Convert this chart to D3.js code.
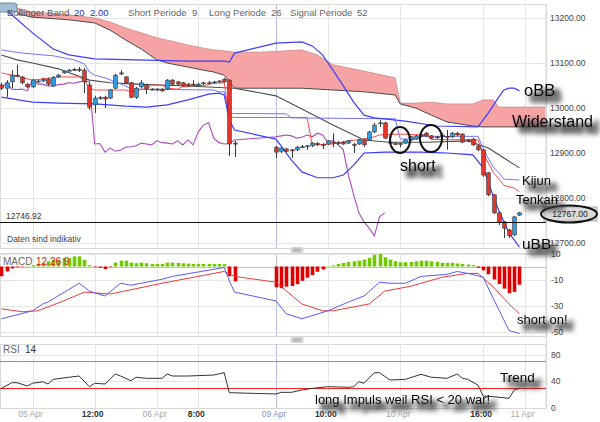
<!DOCTYPE html>
<html><head><meta charset="utf-8">
<script src="https://cdn.jsdelivr.net/npm/d3@7"></script>
<style>
html,body{margin:0;padding:0;background:#fff;}
svg{display:block;font-family:"Liberation Sans",Arial,sans-serif;}
</style></head><body>
<svg id="c" width="600" height="422"></svg>
<script>
// ---------- DATA (hour slots; 0 = 05 Apr 00:00, weekend compressed) ----------
const candleT = [-6,-5,-4,-3,-2,-1,0,1,2,3,4,5,6,7,8,9,10,11,12,13,14,15,16,17,18,19,20,21,22,23,24,25,26,27,28,29,30,31,32,33,34,35,36,37,38,39,
47,48,49,50,51,52,53,54,55,56,57,58,59,60,61,62,63,64,65,66,67,68,69,70,71,72,73,74,75,76,77,78,79,80,81,82,83,84,85,86,87,88,89,90,91,92,93,94];
const openP = [13051,13044,13058,13073,13069,13053,13047,13059,13060,13064,13049,13069,13078,13083,13084,13086,13084,13051,13007,13022,13024,13022,13044,13078,13069,13056,13024,13047,13051,13042,13041,13042,13042,13062,13058,13056,13053,13053,13052,13055,13056,13057,13059,13064,13062,12922,
12913,12904,12909,12907,12907,12913,12914,12916,12921,12919,12920,12924,12923,12924,12922,12919,12920,12929,12929,12947,12966,12967,12924,12921,12920,12922,12929,12931,12939,12944,12938,12936,12936,12937,12936,12944,12942,12929,12931,12916,12907,12856,12807,12767,12747,12729,12718,12762];
const highP = [13056,13062,13084,13096,13071,13056,13064,13062,13067,13067,13071,13076,13084,13087,13089,13091,13089,13058,13027,13027,13027,13042,13076,13084,13071,13058,13047,13062,13053,13044,13044,13044,13064,13064,13060,13058,13056,13062,13056,13058,13060,13060,13062,13067,13064,12927,
12916,12913,12911,12909,12916,12918,12918,12924,12924,12922,12929,12944,12927,12927,12929,12922,12931,12933,12949,12967,12973,12969,12929,12924,12922,12931,12938,12940,12944,12947,12940,12938,12944,12951,12947,12947,12944,12931,12933,12918,12909,12858,12809,12769,12749,12731,12760,12769];
const lowP = [13040,13024,13044,13069,13053,13044,13044,13056,13058,13049,13047,13067,13076,13082,13082,13080,13033,12996,12989,13018,13000,13020,13042,13073,13053,13022,13020,13044,13031,13040,13038,13036,13040,13051,13051,13047,13047,13049,13049,13051,13053,13053,13056,13056,12893,12891,
12889,12900,12902,12889,12904,12911,12907,12913,12916,12909,12918,12913,12918,12918,12920,12900,12918,12913,12927,12944,12958,12931,12920,12918,12913,12920,12927,12929,12936,12936,12931,12931,12933,12907,12933,12938,12922,12924,12916,12904,12847,12804,12764,12740,12711,12711,12716,12760];
const closeP = [13044,13056,13073,13072,13056,13047,13062,13060,13064,13053,13067,13073,13082,13084,13086,13084,13058,13002,13022,13023,13020,13040,13073,13077,13056,13024,13044,13056,13042,13041,13042,13038,13062,13053,13053,13049,13049,13052,13053,13056,13055,13058,13060,13058,12920,12921,
12902,12911,12904,12906,12913,12914,12916,12922,12920,12918,12927,12923,12922,12920,12927,12918,12929,12918,12947,12962,12967,12933,12923,12920,12921,12929,12936,12938,12940,12938,12933,12935,12940,12936,12944,12940,12924,12928,12918,12907,12851,12807,12767,12747,12733,12716,12758,12767];

// Ichimoku cloud (Senkou spans)
const cloudT = [-3,0,7,12,15,18,21,24,26,30,33,35,37,39,44,52,55,58,64,70,71,74,77,80,85,87,89,90,99];
const spanA  = [13222,13213,13207,13200,13191,13178,13167,13156,13151,13140,13133,13129,13127,13124,13124,13129,13118,13096,13082,13067,13011,13011,13013,13009,13009,13018,13018,13002,13002];
const spanB  = [13209,13202,13196,13189,13173,13151,13131,13107,13100,13091,13084,13080,13073,13044,13044,13044,13042,13040,13036,13029,13009,13000,12984,12969,12960,12958,12958,12958,12958];

// Bollinger bands
const bbUpT = [-6,-4,0,4,7,12,20,30,37,38,39,47,52,54,56,58,60,62,64,66,72,78,86,88,90,91,92,93,94];
const bbUp  = [13222,13207,13167,13131,13118,13109,13107,13104,13104,13102,13122,13144,13147,13138,13118,13084,13049,13013,12984,12978,12971,12960,12958,12989,13024,13040,13044,13044,13038];
const bbLoT = [-6,0,5,12,18,22,26,30,34,36,37,38,39,47,50,52,55,58,60,62,64,68,75,80,85,87,88,89,90,91,92,93,94];
const bbLo  = [13024,13013,13011,13009,13004,13002,13007,13018,13031,13033,13029,12973,12951,12931,12884,12858,12845,12845,12851,12873,12900,12902,12902,12900,12896,12867,12836,12802,12773,12747,12722,12707,12691];
const bbMidT = [-6,-3,0,5,11,15,20,30,39,47,52,58,64,69,76,84,88,91,94];
const bbMid  = [13118,13107,13100,13087,13062,13056,13053,13049,13044,13027,12998,12962,12929,12924,12924,12927,12911,12889,12867];

// Tenkan / Kijun
const tenkanT = [-6,-4,0,5,9,10,11,12,18,19,20,21,22,23,25,26,28,29,30,31,33,34,35,36,37,38,39,53,54,58,61,64,66,67,71,76,77,86,87,88,89,90,91,93,94];
const tenkan  = [13078,13073,13062,13069,13069,13062,13044,13040,13040,13036,13036,13042,13042,13051,13051,13044,13042,13047,13047,13050,13050,13052,13056,13055,13057,12980,12979,12979,12918,12920,12927,12931,12936,12940,12942,12940,12930,12929,12899,12878,12856,12843,12828,12822,12814];
const kijunT = [-6,-2,4,8,10,11,12,14,16,18,19,35,36,37,38,49,50,70,71,74,75,86,87,88,89,90,91,94];
const kijun  = [13129,13122,13116,13107,13098,13080,13073,13067,13058,13049,13042,13040,13036,13036,12988,12987,12978,12976,12931,12931,12937,12937,12910,12888,12868,12857,12842,12840];

// Chikou span
const chikouT = [-6,-5,-4,-3,-2,-1,0,1,2,3,4,5,6,7,8,9,10,11,12,13,14,15,16,17,18,19,20,21,22,23,24,25,26,27,28,29,30,31,32,33,34,35,36,37,38,39,
47,48,49,50,51,52,53,54,55,56,57,58,59,60,61,62,63,64,65,66,67,68];
const chikou  = [13044,13056,13042,13041,13042,13038,13062,13053,13053,13049,13049,13052,13053,13056,13055,13058,13060,13058,12920,12921,12902,12911,12904,12906,12913,12914,12916,12922,12920,12918,12927,12923,12922,12920,12927,12918,12929,12918,12947,12962,12967,12933,12923,12920,12921,12929,
12936,12938,12940,12938,12933,12935,12940,12936,12944,12940,12924,12928,12918,12907,12851,12807,12767,12747,12733,12716,12758,12767];

// MACD
const macdT = [-6,0,2,3,9,11,14,17,19,25,27,37,38,39,47,49,52,57,61,64,67,69,72,75,80,82,85,87,89,92,94];
const macdV = [-40.2,-34.1,-28.8,-27.3,-12.9,-18.9,-22.7,-12.9,-14.4,-9.8,-7.6,-0.8,-11,-19.7,-26.5,-36.4,-40.2,-34.1,-27.3,-22.7,-12.1,-12.9,-12.9,-7.6,-6.1,-3.8,-6.1,-8.3,-25,-49.2,-51.5];
const signalT = [-6,-2,1,6,10,15,25,37,39,47,52,56,58,65,68,73,79,84,86,89,92,94];
const signalV = [-32.6,-34.8,-34.1,-26.5,-19.7,-21.2,-12.9,-3.8,-7.6,-12.1,-28.8,-34.1,-34.1,-28.8,-18.9,-15.2,-8.3,-5.3,-5.3,-15.9,-28.8,-36.4];
const histV = [-7.5,-3.8,-1.5,-0.5,-0.3,0.3,1.0,2.0,2.8,4.0,5.3,5.3,6.5,6.5,7.8,7.8,5.0,1.0,-0.5,-1.0,-2.0,-0.5,3.0,4.5,4.5,3.0,2.5,3.0,2.5,2.0,2.0,2.0,3.0,3.0,2.8,2.5,2.2,2.0,2.0,2.0,2.0,2.0,2.0,1.8,-7.5,-11.4,
-16,-16.7,-15.5,-15,-13.6,-11,-8.6,-6.6,-4,-2.3,0.3,0.8,2.0,2.8,3.5,4.0,4.5,5.3,6.6,9.1,9.6,7.1,5.3,4.0,3.3,3.3,3.5,4.0,4.5,4.5,4.0,3.5,2.8,2.8,2.8,2.3,2.0,1.5,1.0,-1.0,-3.0,-6.0,-10.0,-13.5,-17.0,-20.5,-19.5,-14.0];

// RSI
const rsiT = [-6,-4,-3,-1,0,2,3,4,7,9,11,12,14,16,17,19,20,22,25,26,27,30,35,37,38,47,48,50,52,54,57,61,62,63,64,66,67,69,72,75,77,80,82,83,84,86,87,89,92,93,94];
const rsiV = [29,37.6,37.6,32.6,36.7,39,35.6,42.7,45.8,47.7,31.5,36.7,35.6,50.8,47.7,40.6,45.8,44.2,44.2,50.8,47.7,47.7,49.2,52.7,22.4,20.5,23,23,26.5,29,31.5,30.6,31.5,39,36.7,52.7,52.7,41.7,42.7,50.3,45.8,44.2,50.8,44.2,42.7,34,17.4,16.4,13.9,26.5,29];

// Axis ticks
const xTickT = [0,12,24,32,47,57,71,87,95];
const xTickLabels = ["05 Apr","12:00","06 Apr","8:00","09 Apr","10:00","10 Apr","16:00","11 Apr"];
const xTickKind = ["date","time","date","time","week","time","date","time","date"];
const priceTicks = [13200,13100,13000,12900,12800,12700];
const macdTicks = [10,-10,-30,-50];
const rsiTicks = [80,40,0];
const lastPrice = 12767.00;
const refLine = 12746.92;

// ---------- LAYOUT ----------
const svg = d3.select('#c');
const plotR = 546;
const P = {main:[4,248], macd:[253,336], rsi:[344,408]};
const x = d3.scaleLinear().domain([0,95]).range([32.5,524.6]);
const yP = d3.scaleLinear().domain([12700,13200]).range([243,18]);
const yM = d3.scaleLinear().domain([-50,10]).range([331.5,253.5]);
const yR = d3.scaleLinear().domain([0,100]).range([407.5,341.5]);

const defs = svg.append('defs');
Object.entries(P).forEach(([k,[t,b]])=>{
  defs.append('clipPath').attr('id','clip-'+k).append('rect').attr('x',0).attr('y',t).attr('width',plotR).attr('height',b-t);
});
// text shadow filter: dilated, blurred, offset dark copy under the glyphs
const f = defs.append('filter').attr('id','sh').attr('x','-30%').attr('y','-80%').attr('width','180%').attr('height','300%');
f.append('feMorphology').attr('in','SourceAlpha').attr('operator','dilate').attr('radius',1.2).attr('result','d');
f.append('feGaussianBlur').attr('in','d').attr('stdDeviation',2.6).attr('result','b');
f.append('feOffset').attr('in','b').attr('dx',6).attr('dy',6).attr('result','o');
f.append('feFlood').attr('flood-color','#3a3a3a').attr('flood-opacity',0.85).attr('result','c');
f.append('feComposite').attr('in','c').attr('in2','o').attr('operator','in').attr('result','s');
const fm = f.append('feMerge');
fm.append('feMergeNode').attr('in','s');
fm.append('feMergeNode').attr('in','SourceGraphic');

svg.append('rect').attr('width',600).attr('height',422).attr('fill','#fff');

// panel frames and grids
Object.entries(P).forEach(([k,[t,b]])=>{
  const g = svg.append('g');
  g.append('rect').attr('x',0.5).attr('y',t+0.5).attr('width',plotR-0.5).attr('height',b-t).attr('fill','#fff').attr('stroke','#d8d8d8');
  g.selectAll('line.v').data(xTickT).join('line')
    .attr('x1',d=>Math.round(x(d))+0.5).attr('x2',d=>Math.round(x(d))+0.5).attr('y1',t).attr('y2',b)
    .attr('stroke',(d,i)=>xTickKind[i]==='week'?'#b7bfe6':'#e6e6e6');
});
// horizontal grids
svg.append('g').selectAll('line').data(priceTicks).join('line')
  .attr('x1',0).attr('x2',plotR).attr('y1',d=>Math.round(yP(d))+0.5).attr('y2',d=>Math.round(yP(d))+0.5).attr('stroke','#e6e6e6');
svg.append('g').selectAll('line').data(macdTicks).join('line')
  .attr('x1',0).attr('x2',plotR).attr('y1',d=>Math.round(yM(d))+0.5).attr('y2',d=>Math.round(yM(d))+0.5).attr('stroke','#e6e6e6');
svg.append('g').selectAll('line').data([80,40]).join('line')
  .attr('x1',0).attr('x2',plotR).attr('y1',d=>Math.round(yR(d))+0.5).attr('y2',d=>Math.round(yR(d))+0.5).attr('stroke','#e6e6e6');

// separators with handles
[[249.5],[339.5]].forEach(([yy])=>{
  const g = svg.append('g');
  g.append('rect').attr('x',291).attr('y',yy-2).attr('width',12).attr('height',5).attr('rx',1).attr('fill','#d6d6d6').attr('stroke','#bbb').attr('stroke-width',0.5);
  g.append('line').attr('x1',293).attr('x2',301).attr('y1',yy-0.3).attr('y2',yy-0.3).attr('stroke','#888').attr('stroke-width',0.6);
  g.append('line').attr('x1',293).attr('x2',301).attr('y1',yy+1.3).attr('y2',yy+1.3).attr('stroke','#888').attr('stroke-width',0.6);
});
svg.append('line').attr('x1',plotR+0.5).attr('x2',plotR+0.5).attr('y1',P.main[0]).attr('y2',P.rsi[1]).attr('stroke','#d8d8d8');

const pairs = (ts,vs)=>ts.map((t,i)=>[t,vs[i]]);
const mkLine = ys => d3.line().x(d=>x(d[0])).y(d=>ys(d[1]));

// ---------- MAIN PANEL ----------
const gm = svg.append('g').attr('clip-path','url(#clip-main)');
const cloudData = cloudT.map((t,i)=>({t,a:spanA[i],b:spanB[i]}));
gm.append('path').attr('d', d3.area().x(d=>x(d.t)).y0(d=>yP(d.b)).y1(d=>yP(d.a))(cloudData))
  .attr('fill','#f5a3a3');
gm.append('path').attr('d', mkLine(yP)(pairs(cloudT,spanA))).attr('fill','none').attr('stroke','#c98080').attr('stroke-width',0.7);
gm.append('path').attr('d', mkLine(yP)(pairs(cloudT,spanB))).attr('fill','none').attr('stroke','#4a4a4a').attr('stroke-width',1);

const lineSpecs = [
  [chikouT, chikou, '#a84cbc', 1.1],
  [bbMidT, bbMid, '#4d4d4d', 1.1],
  [kijunT, kijun, '#7474ff', 1],
  [tenkanT, tenkan, '#ff4a4a', 1],
  [bbUpT, bbUp, '#3d3dff', 1.2],
  [bbLoT, bbLo, '#3d3dff', 1.2]
];
lineSpecs.forEach(([ts,vs,c,w])=>{
  gm.append('path').attr('d', mkLine(yP)(pairs(ts,vs))).attr('fill','none').attr('stroke',c).attr('stroke-width',w);
});

const candles = candleT.map((t,i)=>({t,o:openP[i],h:highP[i],l:lowP[i],c:closeP[i]}));
const cg = gm.append('g').selectAll('g').data(candles).join('g');
cg.append('line').attr('x1',d=>Math.round(x(d.t))+0.5).attr('x2',d=>Math.round(x(d.t))+0.5)
  .attr('y1',d=>yP(d.h)).attr('y2',d=>yP(d.l)).attr('stroke','#3a3a3a').attr('stroke-width',1);
cg.append('rect').attr('x',d=>Math.round(x(d.t))+0.5-1.8).attr('width',3.6)
  .attr('y',d=>yP(Math.max(d.o,d.c)))
  .attr('height',d=>Math.max(1,yP(Math.min(d.o,d.c))-yP(Math.max(d.o,d.c))))
  .attr('fill',d=>d.c>=d.o?'#2f9be0':'#e2362c').attr('stroke','#333').attr('stroke-width',0.6);

svg.append('line').attr('x1',0).attr('x2',plotR).attr('y1',Math.round(yP(refLine))+0.5).attr('y2',Math.round(yP(refLine))+0.5).attr('stroke','#111').attr('stroke-width',1);
svg.append('text').attr('x',6).attr('y',yP(refLine)-3).attr('font-size',8.5).attr('fill','#333').text(d3.format('.2f')(refLine));
svg.append('text').attr('x',7).attr('y',242).attr('font-size',8.5).attr('fill','#444').text('Daten sind indikativ');

// header
svg.append('rect').attr('x',-3).attr('y',3).attr('width',20).attr('height',9).attr('rx',3).attr('fill','#a3bfd6').attr('stroke','#5b7790').attr('stroke-width',0.8);
const hdr = [
  ['Bollinger Band',7,'#555'],['20',74,'#2d2dd6'],['2.00',90,'#2d2dd6'],
  ['Short Periode',128,'#666'],['9',192,'#666'],
  ['Long Periode',209,'#666'],['26',271,'#666'],
  ['Signal Periode',290,'#666'],['52',357,'#666']
];
svg.append('g').selectAll('text').data(hdr).join('text')
  .attr('x',d=>d[1]).attr('y',16).attr('font-size',9.6).attr('fill',d=>d[2]).text(d=>d[0]);

// price axis labels
svg.append('g').selectAll('text').data(priceTicks).join('text')
  .attr('x',550).attr('y',d=>yP(d)+3).attr('font-size',8.5).attr('fill','#444').text(d=>d3.format('.2f')(d));

// ---------- MACD PANEL ----------
const gmc = svg.append('g').attr('clip-path','url(#clip-macd)');
gmc.append('line').attr('x1',0).attr('x2',plotR).attr('y1',Math.round(yM(0))+0.5).attr('y2',Math.round(yM(0))+0.5).attr('stroke','#b4c2d6');
gmc.selectAll('rect').data(candleT.map((t,i)=>({t,v:histV[i]}))).join('rect')
  .attr('x',d=>Math.round(x(d.t))+0.5-1.8).attr('width',3.6)
  .attr('y',d=>yM(Math.max(0,d.v))).attr('height',d=>Math.abs(yM(d.v)-yM(0)))
  .attr('fill',d=>d.v>=0?'#72c800':'#e00000');
gmc.append('path').attr('d',mkLine(yM)(pairs(signalT,signalV))).attr('fill','none').attr('stroke','#ee3b3b').attr('stroke-width',1);
gmc.append('path').attr('d',mkLine(yM)(pairs(macdT,macdV))).attr('fill','none').attr('stroke','#5a5aff').attr('stroke-width',1);
svg.append('text').attr('x',3).attr('y',265).attr('font-size',10).attr('fill','#666').text('MACD');
svg.append('text').attr('x',36).attr('y',265).attr('font-size',10).attr('fill','#e02020').text('12  26  9');
svg.append('g').selectAll('text').data(macdTicks).join('text')
  .attr('x',551).attr('y',d=>yM(d)+3).attr('font-size',8.5).attr('fill','#444').text(d=>d);

// ---------- RSI PANEL ----------
const gr = svg.append('g').attr('clip-path','url(#clip-rsi)');
gr.append('line').attr('x1',0).attr('x2',plotR).attr('y1',Math.round(yR(70))+0.5).attr('y2',Math.round(yR(70))+0.5).attr('stroke','#6f9dbd').attr('stroke-width',1.2);
gr.append('line').attr('x1',0).attr('x2',plotR).attr('y1',Math.round(yR(30))+0.5).attr('y2',Math.round(yR(30))+0.5).attr('stroke','#ff2020').attr('stroke-width',1.2);
gr.append('path').attr('d',mkLine(yR)(pairs(rsiT,rsiV))).attr('fill','none').attr('stroke','#333').attr('stroke-width',1);
svg.append('text').attr('x',3).attr('y',353).attr('font-size',10).attr('fill','#666').text('RSI');
svg.append('text').attr('x',25).attr('y',353).attr('font-size',10).attr('fill','#333').text('14');
svg.append('g').selectAll('text').data(rsiTicks).join('text')
  .attr('x',551).attr('y',d=>yR(d)+3).attr('font-size',8.5).attr('fill','#444').text(d=>d);

// x axis labels
svg.append('g').selectAll('text').data(xTickT).join('text')
  .attr('x',d=>x(d)-2).attr('y',417).attr('text-anchor','middle').attr('font-size',8.5)
  .attr('font-weight',(d,i)=>xTickKind[i]==='time'?'bold':'normal')
  .attr('fill',(d,i)=>xTickKind[i]==='time'?'#333':(xTickKind[i]==='week'?'#8492d6':'#a8a8a8'))
  .text((d,i)=>xTickLabels[i]);

// ---------- ANNOTATIONS ----------
svg.append('rect').attr('x',544).attr('y',207).attr('width',53).attr('height',14).attr('fill','#dadada').attr('stroke','#aaa');
svg.append('text').attr('x',570).attr('y',217).attr('text-anchor','middle').attr('font-size',8.5).attr('fill','#222').text(d3.format('.2f')(lastPrice));
svg.append('ellipse').attr('cx',569).attr('cy',214).attr('rx',28).attr('ry',8.5).attr('fill','none').attr('stroke','#111').attr('stroke-width',2);
[[400,140,10,13],[431,138.5,11,13.5]].forEach(([cx,cy,rx,ry])=>{
  svg.append('ellipse').attr('cx',cx).attr('cy',cy).attr('rx',rx).attr('ry',ry).attr('fill','none').attr('stroke','#111').attr('stroke-width',2);
});
const notes = [
  ['oBB',524,96,16.5],['Widerstand',512,127,16],['short',400,171,16],
  ['Kijun',522,185,13],['Tenkan',516,204,13],['uBB',522,249,15.5],
  ['short on!',517,324,13],['Trend',500,382,13.5],['long Impuls weil RSI < 20 war!',315,404,13]
];
svg.append('g').selectAll('text').data(notes).join('text')
  .attr('x',d=>d[1]).attr('y',d=>d[2]).attr('font-size',d=>d[3]).attr('fill','#000')
  .attr('filter','url(#sh)').text(d=>d[0]);
</script>
</body></html>
